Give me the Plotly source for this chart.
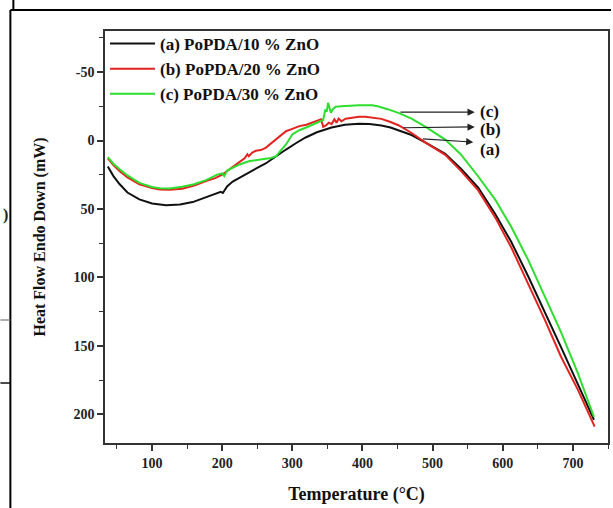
import plotly.graph_objects as go

# ---------------- data ----------------
temp_a = [37, 45, 54, 65, 82, 100, 120, 140, 158, 175, 191, 198, 201, 204, 207, 215, 225, 239, 250,
          262, 275, 291, 305, 319, 335, 356, 375, 395, 410, 427, 440, 452, 470, 490, 518, 540, 565,
          589, 612, 636, 660, 683, 707, 730]
heat_a = [19, 26, 32, 38, 43, 46, 47.3, 46.8, 45, 42, 38.7, 37.5, 38.3, 35.5, 33.6, 30, 27, 23.4, 20,
          16.8, 12, 6.6, 2, -2.2, -6, -9.5, -11.5, -12.2, -12, -11, -9.5, -7.5, -4, 1.5, 9.8, 20.5, 34.5,
          53.5, 74, 99, 125, 151, 178, 204]

temp_b = [37, 45, 54, 65, 82, 100, 111, 125, 143, 160, 177, 190, 200, 210, 224, 232, 236, 238, 243,
          248, 255, 262, 270, 280, 291, 300, 310, 320, 330, 338, 341, 344, 348, 352, 356, 360, 363,
          366, 370, 376, 385, 395, 404, 415, 427, 440, 452, 470, 490, 518, 540, 565, 589, 612, 636,
          660, 683, 707, 731]
heat_b = [13, 18, 22.4, 27, 32, 34.8, 35.8, 36, 35.3, 33, 29.7, 27.5, 25, 21, 16, 13, 10, 11.5, 8.8,
          7.5, 7, 5.4, 2, -2.5, -6.8, -8.5, -10.5, -11.5, -13.5, -14.8, -15.5, -10, -11, -13, -12,
          -15.5, -13, -16, -14, -15.9, -16.5, -17.3, -17.3, -16.8, -15.8, -13.5, -11, -5.5, 1.5, 10.5,
          22, 36.5, 56, 78, 104, 131, 158, 182, 209]

temp_c = [37, 45, 54, 65, 82, 100, 111, 125, 143, 160, 177, 193, 200, 203, 207, 215, 225, 239, 250,
          262, 270, 277, 284, 291, 300, 310, 319, 330, 340, 344, 347, 349, 351, 353, 355, 358, 362,
          370, 380, 395, 414, 423, 437, 452, 470, 490, 518, 540, 565, 589, 612, 636, 660, 683, 707,
          730]
heat_c = [12.2, 17, 21, 25.5, 31, 34, 34.9, 35, 33.8, 32, 29, 24.9, 24, 26, 22, 20, 17.5, 15, 14,
          13.4, 12.8, 11.5, 7, 2.9, -4.4, -7.5, -9.3, -12, -14.1, -15, -22.7, -21, -27.5, -23, -20.2,
          -23, -24.6, -25, -25.5, -25.8, -25.8, -24.9, -22.7, -20, -16, -10, -0.7, 10, 26.3, 43, 63,
          87, 114, 140, 170, 202]

series_names = ["(a) PoPDA/10 % ZnO", "(b) PoPDA/20 % ZnO", "(c) PoPDA/30 % ZnO"]
series_colors = ["#111111", "#e3231f", "#2ede2e"]

x_ticks = [100, 200, 300, 400, 500, 600, 700]
x_ticktext = ["100", "200", "300", "400", "500", "600", "700"]
y_ticks = [-50, 0, 50, 100, 150, 200]
y_ticktext = ["-50", "0", "50", "100", "150", "200"]

# arrow labels: (label, tail_x, tail_y, head_x, head_y)
arrow_labels = ["(c)", "(b)", "(a)"]
arrow_tail_x = [452, 456, 484]
arrow_tail_y = [-20.7, -9.3, -1.2]
arrow_head_x = [560, 560, 558]
arrow_head_y = [-20.7, -9.9, 1.2]
label_y = [-21.5, -8.0, 6.6]
label_x = 565

FONT = "Liberation Serif"

# ---------------- figure ----------------
fig = go.Figure()
for t, h, name, col in zip([temp_a, temp_b, temp_c], [heat_a, heat_b, heat_c], series_names, series_colors):
    fig.add_trace(go.Scatter(x=t, y=h, mode="lines", name=name,
                             line=dict(color=col, width=2)))

W, H = 613, 508
ML, MR, MT, MB = 105, 3, 31, 65
PW, PH = W - ML - MR, H - MT - MB


def px2paper(px, py):
    return (px - ML) / PW, (H - MB - py) / PH


annotations = []
for lab, tx, ty, hx, hy, ly in zip(arrow_labels, arrow_tail_x, arrow_tail_y, arrow_head_x, arrow_head_y, label_y):
    annotations.append(dict(x=hx, y=hy, ax=tx, ay=ty, xref="x", yref="y", axref="x", ayref="y",
                            text="", showarrow=True, arrowhead=2, arrowsize=1.2, arrowwidth=1.2,
                            arrowcolor="#222", standoff=0, startstandoff=0))
    annotations.append(dict(x=label_x, y=ly, xref="x", yref="y", text=lab, showarrow=False,
                            xanchor="left", yanchor="middle",
                            font=dict(family=FONT, size=17, color="#111", weight="bold")))

# partial character at the left edge of the scanned page
cx, cy = px2paper(1, 215)
annotations.append(dict(x=cx, y=cy, xref="paper", yref="paper", text=")", showarrow=False,
                        xanchor="left", yanchor="middle",
                        font=dict(family=FONT, size=16, color="#222", weight="bold")))

shapes = []


def seg(x0, y0, x1, y1, color="#000", width=2):
    a0, b0 = px2paper(x0, y0)
    a1, b1 = px2paper(x1, y1)
    shapes.append(dict(type="line", xref="paper", yref="paper", x0=a0, y0=b0, x1=a1, y1=b1,
                       line=dict(color=color, width=width)))


seg(10, 10, 10, 508)
seg(10, 10, 613, 10)
seg(13, 0, 13, 10)
seg(0, 320, 10, 320, color="#777", width=1.2)
seg(0, 383, 10, 383, color="#111", width=1.5)

tickfont = dict(family=FONT, size=14, color="#222", weight="bold")

fig.update_layout(
    width=W, height=H,
    margin=dict(l=ML, r=MR, t=MT, b=MB, pad=0),
    paper_bgcolor="white", plot_bgcolor="white",
    showlegend=True,
    legend=dict(x=0, y=1.012, xanchor="left", yanchor="top", bgcolor="rgba(0,0,0,0)",
                borderwidth=0, font=dict(family=FONT, size=17, color="#111", weight="bold"),
                itemwidth=45, tracegroupgap=0),
    annotations=annotations,
    shapes=shapes,
    xaxis=dict(range=[33, 750], tickmode="array", tickvals=x_ticks, ticktext=x_ticktext,
               ticks="outside", ticklen=6, tickwidth=1.5, tickcolor="#333",
               minor=dict(ticks="outside", ticklen=4, tickwidth=1.2, tickcolor="#333", dtick=50, tick0=0),
               showline=True, linecolor="#333", linewidth=1.5, mirror=True,
               showgrid=False, zeroline=False, tickfont=tickfont,
               title=dict(text="Temperature (°C)", standoff=18,
                          font=dict(family=FONT, size=18, color="#111", weight="bold"))),
    yaxis=dict(range=[221, -80], tickmode="array", tickvals=y_ticks, ticktext=y_ticktext,
               ticks="outside", ticklen=6, tickwidth=1.5, tickcolor="#333",
               minor=dict(ticks="outside", ticklen=4, tickwidth=1.2, tickcolor="#333", dtick=25, tick0=0),
               showline=True, linecolor="#333", linewidth=1.5, mirror=True,
               showgrid=False, zeroline=False, tickfont=tickfont,
               title=dict(text="Heat Flow Endo Down (mW)", standoff=24,
                          font=dict(family=FONT, size=16, color="#111", weight="bold"))),
)

fig.write_html("out.html")
